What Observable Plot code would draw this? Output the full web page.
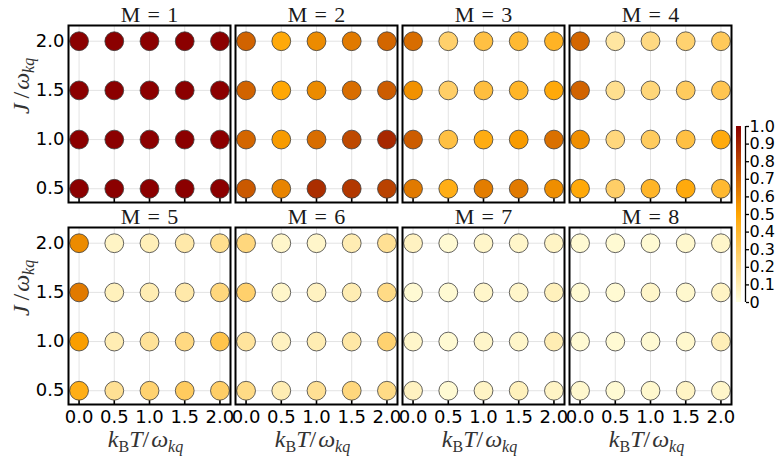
<!DOCTYPE html>
<html>
<head>
<meta charset="utf-8">
<script src="https://cdn.jsdelivr.net/npm/d3@7"></script>
<script src="https://cdn.jsdelivr.net/npm/@observablehq/plot@0.6"></script>
<style>
  html, body { margin: 0; padding: 0; background: #fff; overflow: hidden; }
  #wrap { position: relative; width: 779px; height: 457px; }
  #wrap svg { position: absolute; top: 0; }
</style>
</head>
<body>
<div id="wrap"></div>
<script>
// ---- data ----
const temperatures = [0.0, 0.5, 1.0, 1.5, 2.0];      // k_B T / ω_kq (columns)
const couplings = [2.0, 1.5, 1.0, 0.5];              // J / ω_kq (rows, top to bottom)
const panelM = [1, 2, 3, 4, 5, 6, 7, 8];
// values per panel, rows in the order of `couplings`, columns in the order of `temperatures`
const valuesM1 = [
  [1.00, 1.00, 1.00, 1.00, 1.00],
  [1.00, 1.00, 1.00, 1.00, 1.00],
  [1.00, 1.00, 1.00, 1.00, 1.00],
  [1.00, 1.00, 1.00, 1.00, 1.00]
];
const valuesM2 = [
  [0.70, 0.48, 0.58, 0.63, 0.69],
  [0.70, 0.49, 0.58, 0.67, 0.72],
  [0.69, 0.53, 0.67, 0.78, 0.88],
  [0.73, 0.60, 0.86, 0.83, 0.80]
];
const valuesM3 = [
  [0.67, 0.26, 0.35, 0.39, 0.42],
  [0.56, 0.27, 0.36, 0.41, 0.48],
  [0.72, 0.35, 0.46, 0.53, 0.66],
  [0.63, 0.45, 0.62, 0.63, 0.57]
];
const valuesM4 = [
  [0.69, 0.14, 0.21, 0.25, 0.30],
  [0.70, 0.18, 0.23, 0.29, 0.32],
  [0.57, 0.22, 0.29, 0.35, 0.47],
  [0.48, 0.27, 0.41, 0.47, 0.39]
];
const valuesM5 = [
  [0.58, 0.06, 0.09, 0.12, 0.18],
  [0.63, 0.08, 0.10, 0.12, 0.22],
  [0.52, 0.10, 0.16, 0.21, 0.33],
  [0.45, 0.17, 0.25, 0.29, 0.27]
];
const valuesM6 = [
  [0.22, 0.05, 0.05, 0.10, 0.17],
  [0.26, 0.05, 0.07, 0.10, 0.20],
  [0.15, 0.07, 0.10, 0.13, 0.25],
  [0.20, 0.10, 0.17, 0.22, 0.20]
];
const valuesM7 = [
  [0.07, 0.03, 0.05, 0.05, 0.06],
  [0.03, 0.03, 0.05, 0.05, 0.08],
  [0.05, 0.03, 0.05, 0.05, 0.10],
  [0.07, 0.03, 0.06, 0.08, 0.06]
];
const valuesM8 = [
  [0.03, 0.03, 0.03, 0.04, 0.05],
  [0.03, 0.03, 0.05, 0.04, 0.06],
  [0.03, 0.03, 0.03, 0.04, 0.09],
  [0.04, 0.03, 0.04, 0.06, 0.05]
];
const colorbarTicks = [0, 0.1, 0.2, 0.3, 0.4, 0.5, 0.6, 0.7, 0.8, 0.9, 1.0];

// ---- table ----
const allValues = [valuesM1, valuesM2, valuesM3, valuesM4, valuesM5, valuesM6, valuesM7, valuesM8];
const panels = panelM.map((M, i) => ({M, col: i % 4, row: Math.floor(i / 4)}));
const points = [];
panels.forEach((p, i) => {
  couplings.forEach((J, r) => {
    temperatures.forEach((T, c) => {
      points.push({M: p.M, col: p.col, row: p.row, T, J, v: allValues[i][r][c]});
    });
  });
});

const sans = "'DejaVu Sans', sans-serif";
const serif = "'Liberation Serif', 'DejaVu Serif', serif";
const colorScale = {
  type: "linear",
  domain: [0, 0.5, 1],
  range: ["#ffffe0", "#ffa500", "#8b0000"],
  interpolate: "rgb"
};
const fmt = d3.format(".1f");
const YLABEL = "J/ωkq";
const XLABEL = "kBT/ωkq";

const chart = Plot.plot({
  width: 779,
  height: 457,
  marginLeft: 67,
  marginRight: 47,
  marginTop: 25,
  marginBottom: 52,
  style: {fontFamily: sans, background: "white", color: "black"},
  x: {domain: [-0.15, 2.15], axis: null},
  y: {domain: [0.36, 2.16], axis: null},
  fx: {domain: [0, 1, 2, 3], axis: null, paddingInner: 0.03, paddingOuter: 0},
  fy: {domain: [0, 1], axis: null, paddingInner: 0.123, paddingOuter: 0},
  color: colorScale,
  marks: [
    Plot.gridX(temperatures, {stroke: "#e3e3e3", strokeOpacity: 1, strokeWidth: 1}),
    Plot.gridY(couplings, {stroke: "#e3e3e3", strokeOpacity: 1, strokeWidth: 1}),
    Plot.axisX(temperatures, {tickSize: 4, dy: -4, tickFormat: () => "", strokeWidth: 1.6, label: null, facetAnchor: null}),
    Plot.axisX(temperatures, {tickSize: 0, tickPadding: 6, tickFormat: fmt, fontSize: 18, fontFamily: sans, label: null}),
    Plot.axisY(couplings, {tickSize: 0, tickPadding: 4, tickFormat: fmt, fontSize: 18, fontFamily: sans, label: null}),
    Plot.dot(points, {x: "T", y: "J", fx: "col", fy: "row", r: 9.4, fill: "v", stroke: "#3c3c3c", strokeWidth: 0.8}),
    Plot.frame({stroke: "black", strokeWidth: 2}),
    Plot.text(panels, {
      fx: "col", fy: "row", frameAnchor: "top", lineAnchor: "bottom", dy: -4,
      text: d => `M\u2004=\u2004${d.M}`, fontFamily: serif, fontSize: 22, fill: "#1a1a1a"
    }),
    Plot.text(panels.filter(p => p.col === 0), {
      fx: "col", fy: "row", frameAnchor: "left", lineAnchor: "bottom", dx: -40, rotate: -90,
      text: () => YLABEL, fontFamily: serif, fontSize: 24, fill: "#333"
    }),
    Plot.text(panels.filter(p => p.row === 1), {
      fx: "col", fy: "row", frameAnchor: "bottom", lineAnchor: "bottom", dy: 42, dx: -4,
      text: () => XLABEL, fontFamily: serif, fontSize: 24, fill: "#333"
    })
  ]
});

// rich math labels (italic symbols with subscripts)
d3.select(chart).selectAll("text").filter(function() { return this.textContent === YLABEL; }).each(function() {
  const t = d3.select(this).text(null);
  t.append("tspan").attr("font-style", "italic").text("J");
  t.append("tspan").text("\u2009/\u200a");
  t.append("tspan").attr("font-style", "italic").text("ω");
  t.append("tspan").attr("font-style", "italic").attr("font-size", 16).attr("dy", 5).text("kq");
});
d3.select(chart).selectAll("text").filter(function() { return this.textContent === XLABEL; }).each(function() {
  const t = d3.select(this).text(null);
  t.append("tspan").attr("font-style", "italic").text("k");
  t.append("tspan").attr("font-size", 16).attr("dy", 5).text("B");
  t.append("tspan").attr("font-style", "italic").attr("dy", -5).text("T");
  t.append("tspan").text("/\u200a");
  t.append("tspan").attr("font-style", "italic").text("ω");
  t.append("tspan").attr("font-style", "italic").attr("font-size", 16).attr("dy", 5).text("kq");
});

// colorbar
const step = 0.005;
const colorbarCells = d3.range(0, 1, step);
const bar = Plot.plot({
  width: 43,
  height: 457,
  marginLeft: 0,
  marginRight: 34,
  marginTop: 126,
  marginBottom: 457 - 302,
  style: {fontFamily: sans, background: "transparent", color: "black", overflow: "visible"},
  x: {domain: [0, 1], axis: null},
  y: {domain: [0, 1], axis: null},
  color: colorScale,
  marks: [
    Plot.rect(colorbarCells, {x1: 0, x2: 0.56, y1: d => d, y2: d => d + step, fill: d => d + step / 2, shapeRendering: "crispEdges"}),
    Plot.ruleX([1], {stroke: "black", strokeWidth: 1.3}),
    Plot.axisY(colorbarTicks, {
      anchor: "right", tickSize: 3, tickPadding: 1, strokeWidth: 1.3, fontSize: 16, fontFamily: sans, label: null,
      tickFormat: d => d === 0 ? "0" : fmt(d)
    })
  ]
});
bar.style.left = "736px";

const wrap = document.getElementById("wrap");
chart.style.left = "0px";
wrap.appendChild(chart);
wrap.appendChild(bar);
</script>
</body>
</html>
